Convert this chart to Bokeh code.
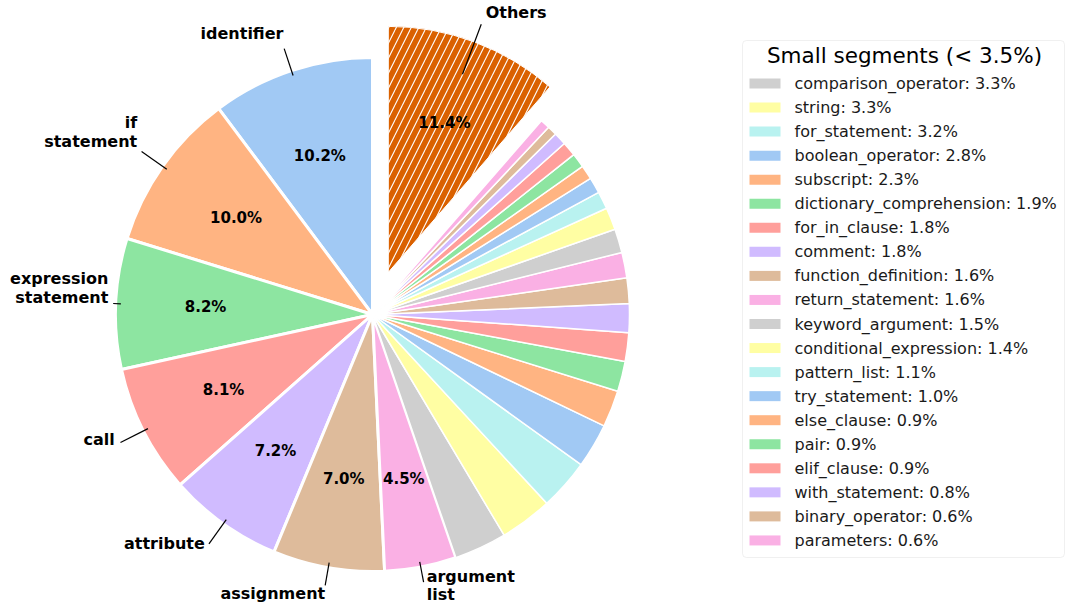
import math
from bokeh.plotting import figure
from bokeh.models import Range1d, BoxAnnotation, ColumnDataSource
from bokeh.core.properties import value
from bokeh.embed import file_html
from bokeh.resources import INLINE

# ---------------- data ----------------
big_labels = ["identifier", "if\nstatement", "expression\nstatement", "call",
              "attribute", "assignment", "argument\nlist"]
big_values = [10.2, 10.0, 8.2, 8.1, 7.2, 7.0, 4.5]

small_labels = ["comparison_operator", "string", "for_statement", "boolean_operator",
                "subscript", "dictionary_comprehension", "for_in_clause", "comment",
                "function_definition", "return_statement", "keyword_argument",
                "conditional_expression", "pattern_list", "try_statement", "else_clause",
                "pair", "elif_clause", "with_statement", "binary_operator", "parameters"]
small_values = [3.3, 3.3, 3.2, 2.8, 2.3, 1.9, 1.8, 1.8, 1.6, 1.6, 1.5, 1.4, 1.1,
                1.0, 0.9, 0.9, 0.9, 0.8, 0.6, 0.6]

others_label = "Others"
others_value = 11.4

palette = ['#a1c9f4', '#ffb482', '#8de5a1', '#ff9f9b', '#d0bbff',
           '#debb9b', '#fab0e4', '#cfcfcf', '#fffea3', '#b9f2f0']
others_color = "#da6100"
legend_title = "Small segments (< 3.5%)"

# ---------------- layout ----------------
W, H = 1065, 606
FONT = value("DejaVu Sans")


def Y(py):  # picture pixel y -> data y
    return H - py


CX, CY = 372, Y(314)
R = 257
R_OTHERS = 246
EXPLODE = 45
PCT_R = 0.65

# text radius factor, angle offset (deg) from slice middle, leader line end factor, align
label_layout = {
    "identifier": (1.147, -0.8, 1.09, "right"),
    "if\nstatement": (1.159, -2.6, 1.10, "right"),
    "expression\nstatement": (1.033, -3.3, 1.01, "right"),
    "call": (1.114, -1.1, 1.10, "right"),
    "attribute": (1.105, -0.7, 1.096, "right"),
    "assignment": (1.103, 0.3, 1.07, "right"),
    "argument\nlist": (1.075, 0.5, 1.06, "left"),
    "Others": (1.128, 0.0, 1.077, "left"),
}

p = figure(width=W, height=H, x_range=Range1d(0, W), y_range=Range1d(0, H),
           output_backend="svg", toolbar_location=None, min_border=0,
           x_axis_location=None, y_axis_location=None, outline_line_color=None)
p.grid.visible = False
p.background_fill_color = "white"
p.border_fill_color = "white"

all_values = big_values + small_values + [others_value]
total = sum(all_values)
angles = []
cum = 0.0
for v in all_values:
    a0 = math.pi / 2 + cum / total * 2 * math.pi
    cum += v
    a1 = math.pi / 2 + cum / total * 2 * math.pi
    angles.append((a0, a1))

nb, ns = len(big_values), len(small_values)
colors = [palette[i % len(palette)] for i in range(nb + ns)]

# big wedges
big_src = ColumnDataSource(dict(
    start=[angles[i][0] for i in range(nb)], end=[angles[i][1] for i in range(nb)],
    color=colors[:nb]))
p.wedge(x=CX, y=CY, radius=R, start_angle="start", end_angle="end", source=big_src,
        fill_color="color", line_color="white", line_width=3)

# small wedges
small_src = ColumnDataSource(dict(
    start=[angles[nb + i][0] for i in range(ns)], end=[angles[nb + i][1] for i in range(ns)],
    color=colors[nb:nb + ns]))
p.wedge(x=CX, y=CY, radius=R, start_angle="start", end_angle="end", source=small_src,
        fill_color="color", line_color="white", line_width=1.5)

# others wedge (exploded, hatched)
oa0, oa1 = angles[-1]
omid = (oa0 + oa1) / 2
ox, oy = CX + EXPLODE * math.cos(omid), CY + EXPLODE * math.sin(omid)
p.wedge(x=ox, y=oy, radius=R_OTHERS, start_angle=oa0, end_angle=oa1,
        fill_color=others_color, line_color="white", line_width=1,
        hatch_pattern="/", hatch_color="white", hatch_scale=15, hatch_weight=1.1)

# percentage labels
px, py, pt = [], [], []
for i in range(nb):
    m = sum(angles[i]) / 2
    px.append(CX + PCT_R * R * math.cos(m))
    py.append(CY + PCT_R * R * math.sin(m))
    pt.append(f"{big_values[i]:.1f}%")
px.append(ox + PCT_R * R_OTHERS * math.cos(omid))
py.append(oy + PCT_R * R_OTHERS * math.sin(omid))
pt.append(f"{others_value:.1f}%")
p.text(x=px, y=py, text=pt, text_align="center", text_baseline="middle",
       text_font=FONT, text_font_style="bold", text_font_size="15px", text_color="black")

# outer labels with leader lines
centers = [(CX, CY, R)] * nb + [(ox, oy, R_OTHERS)]
names = big_labels + [others_label]
mids = [sum(angles[i]) / 2 for i in range(nb)] + [omid]
sx0, sy0, sx1, sy1 = [], [], [], []
for name, (cx, cy, rr), m in zip(names, centers, mids):
    tr, dth, lr, align = label_layout[name]
    r0 = 0.86 if name == others_label else 0.98
    sx0.append(cx + r0 * rr * math.cos(m))
    sy0.append(cy + r0 * rr * math.sin(m))
    sx1.append(cx + lr * rr * math.cos(m))
    sy1.append(cy + lr * rr * math.sin(m))
    ta = m + math.radians(dth)
    p.text(x=[cx + tr * rr * math.cos(ta)], y=[cy + tr * rr * math.sin(ta)], text=[name],
           text_align=align, text_baseline="middle", text_font=FONT,
           text_font_style="bold", text_font_size="16px", text_color="black",
           text_line_height=0.97)
p.segment(x0=sx0, y0=sy0, x1=sx1, y1=sy1, line_color="black", line_width=1.2)

# legend for small segments (drawn manually)
LB_L, LB_R, LB_T, LB_B = 742, 1064, 40, 557
p.add_layout(BoxAnnotation(left=LB_L, right=LB_R, top=Y(LB_T), bottom=Y(LB_B),
                           fill_color=None, line_color="#cccccc", line_width=1,
                           border_radius=4))
p.text(x=[(LB_L + LB_R) / 2 + 1], y=[Y(55)], text=[legend_title], text_align="center",
       text_baseline="middle", text_font=FONT, text_font_size="21.5px", text_color="black")
ROW0, ROWH = 83, 24.05
ry = [Y(ROW0 + ROWH * i) for i in range(ns)]
p.rect(x=[LB_L + 7 + 15.5] * ns, y=ry, width=31, height=10, fill_color=colors[nb:nb + ns],
       line_color=None)
p.text(x=[LB_L + 52] * ns, y=ry, text=[f"{l}: {v:.1f}%" for l, v in zip(small_labels, small_values)],
       text_align="left", text_baseline="middle", text_font=FONT, text_font_size="16px",
       text_color="#1a1a1a")

open("out.html", "w").write(file_html(p, INLINE))
